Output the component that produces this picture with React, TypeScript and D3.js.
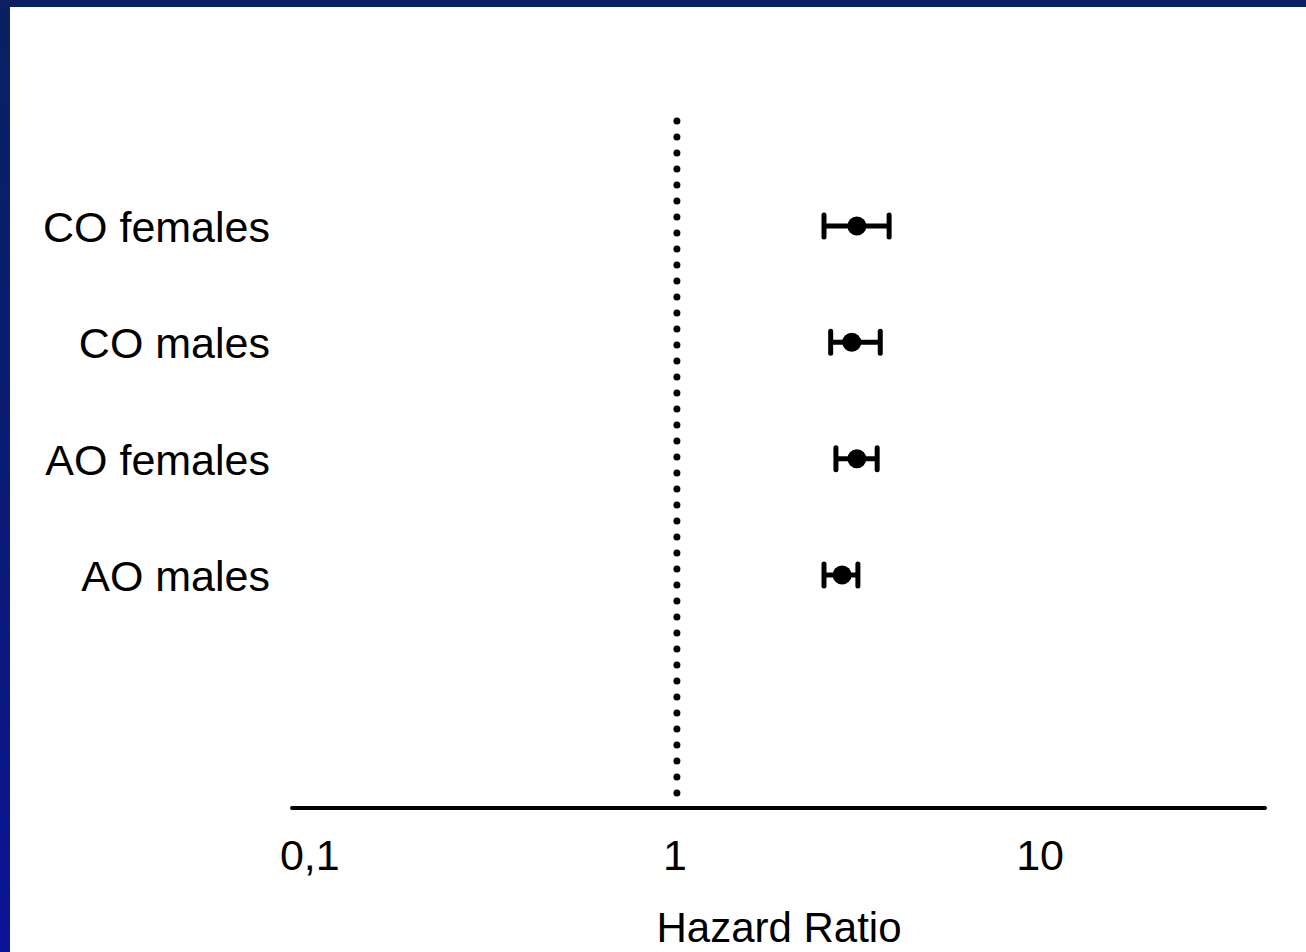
import { useEffect, useRef } from "react";
import * as d3 from "d3";

const groups = ["CO females", "CO males", "AO females", "AO males"];
const hazardRatio = [3.15, 3.05, 3.15, 2.87];
const ciLower = [2.56, 2.67, 2.76, 2.56];
const ciUpper = [3.86, 3.65, 3.58, 3.17];
const tickValues = [0.1, 1, 10];
const tickLabels = ["0,1", "1", "10"];

const width = 1306;
const height = 952;
const font = "Arial, 'Liberation Sans', sans-serif";

export default function App() {
  const svgRef = useRef<SVGSVGElement>(null);

  useEffect(() => {
    const svg = d3.select(svgRef.current);
    svg.selectAll("*").remove();

    // slide background
    const defs = svg.append("defs");
    const grad = defs
      .append("linearGradient")
      .attr("id", "bg")
      .attr("x1", 0)
      .attr("y1", 0)
      .attr("x2", 0)
      .attr("y2", 1);
    grad.append("stop").attr("offset", "0%").attr("stop-color", "#0a2062");
    grad.append("stop").attr("offset", "60%").attr("stop-color", "#0a1a78");
    grad.append("stop").attr("offset", "100%").attr("stop-color", "#0a1496");

    svg.append("rect").attr("width", width).attr("height", height).attr("fill", "url(#bg)");
    svg
      .append("rect")
      .attr("x", 10)
      .attr("y", 7)
      .attr("width", width - 10)
      .attr("height", height - 7)
      .attr("fill", "#ffffff");

    const x = d3.scaleLog().domain([0.0894, 41.3]).range([292, 1265]);
    const y = d3.scalePoint<string>().domain(groups).range([226, 575]);
    const axisY = 808;

    // reference line at HR = 1
    svg
      .append("line")
      .attr("x1", x(1) + 2)
      .attr("x2", x(1) + 2)
      .attr("y1", 121)
      .attr("y2", 794)
      .attr("stroke", "#000")
      .attr("stroke-width", 7)
      .attr("stroke-linecap", "round")
      .attr("stroke-dasharray", "0 16");

    // x axis line
    svg
      .append("line")
      .attr("x1", x.range()[0])
      .attr("x2", x.range()[1])
      .attr("y1", axisY)
      .attr("y2", axisY)
      .attr("stroke", "#000")
      .attr("stroke-width", 4)
      .attr("stroke-linecap", "round");

    svg
      .append("g")
      .selectAll("text")
      .data(tickValues)
      .join("text")
      .attr("x", (d) => x(d))
      .attr("y", 870)
      .attr("text-anchor", "middle")
      .style("font-family", font)
      .attr("font-size", 43)
      .text((_, i) => tickLabels[i]);

    svg
      .append("text")
      .attr("x", 779)
      .attr("y", 942)
      .attr("text-anchor", "middle")
      .style("font-family", font)
      .attr("font-size", 42)
      .text("Hazard Ratio");

    // group labels
    svg
      .append("g")
      .selectAll("text")
      .data(groups)
      .join("text")
      .attr("x", 270)
      .attr("y", (d) => (y(d) as number) + 16)
      .attr("text-anchor", "end")
      .style("font-family", font)
      .attr("font-size", 43)
      .text((d) => d);

    // estimates with CI
    const rows = svg
      .append("g")
      .selectAll("g")
      .data(groups)
      .join("g")
      .attr("transform", (d) => `translate(0,${y(d)})`);

    rows
      .append("line")
      .attr("x1", (_, i) => x(ciLower[i]))
      .attr("x2", (_, i) => x(ciUpper[i]))
      .attr("stroke", "#000")
      .attr("stroke-width", 5);

    [ciLower, ciUpper].forEach((arr) => {
      rows
        .append("line")
        .attr("x1", (_, i) => x(arr[i]))
        .attr("x2", (_, i) => x(arr[i]))
        .attr("y1", -11)
        .attr("y2", 11)
        .attr("stroke", "#000")
        .attr("stroke-width", 5)
        .attr("stroke-linecap", "round");
    });

    rows
      .append("circle")
      .attr("cx", (_, i) => x(hazardRatio[i]))
      .attr("r", 9.5)
      .attr("fill", "#000");
  }, []);

  return (
    <div style={{ position: "fixed", left: 0, top: 0 }}>
      <svg ref={svgRef} width={width} height={height} style={{ display: "block" }} />
    </div>
  );
}
